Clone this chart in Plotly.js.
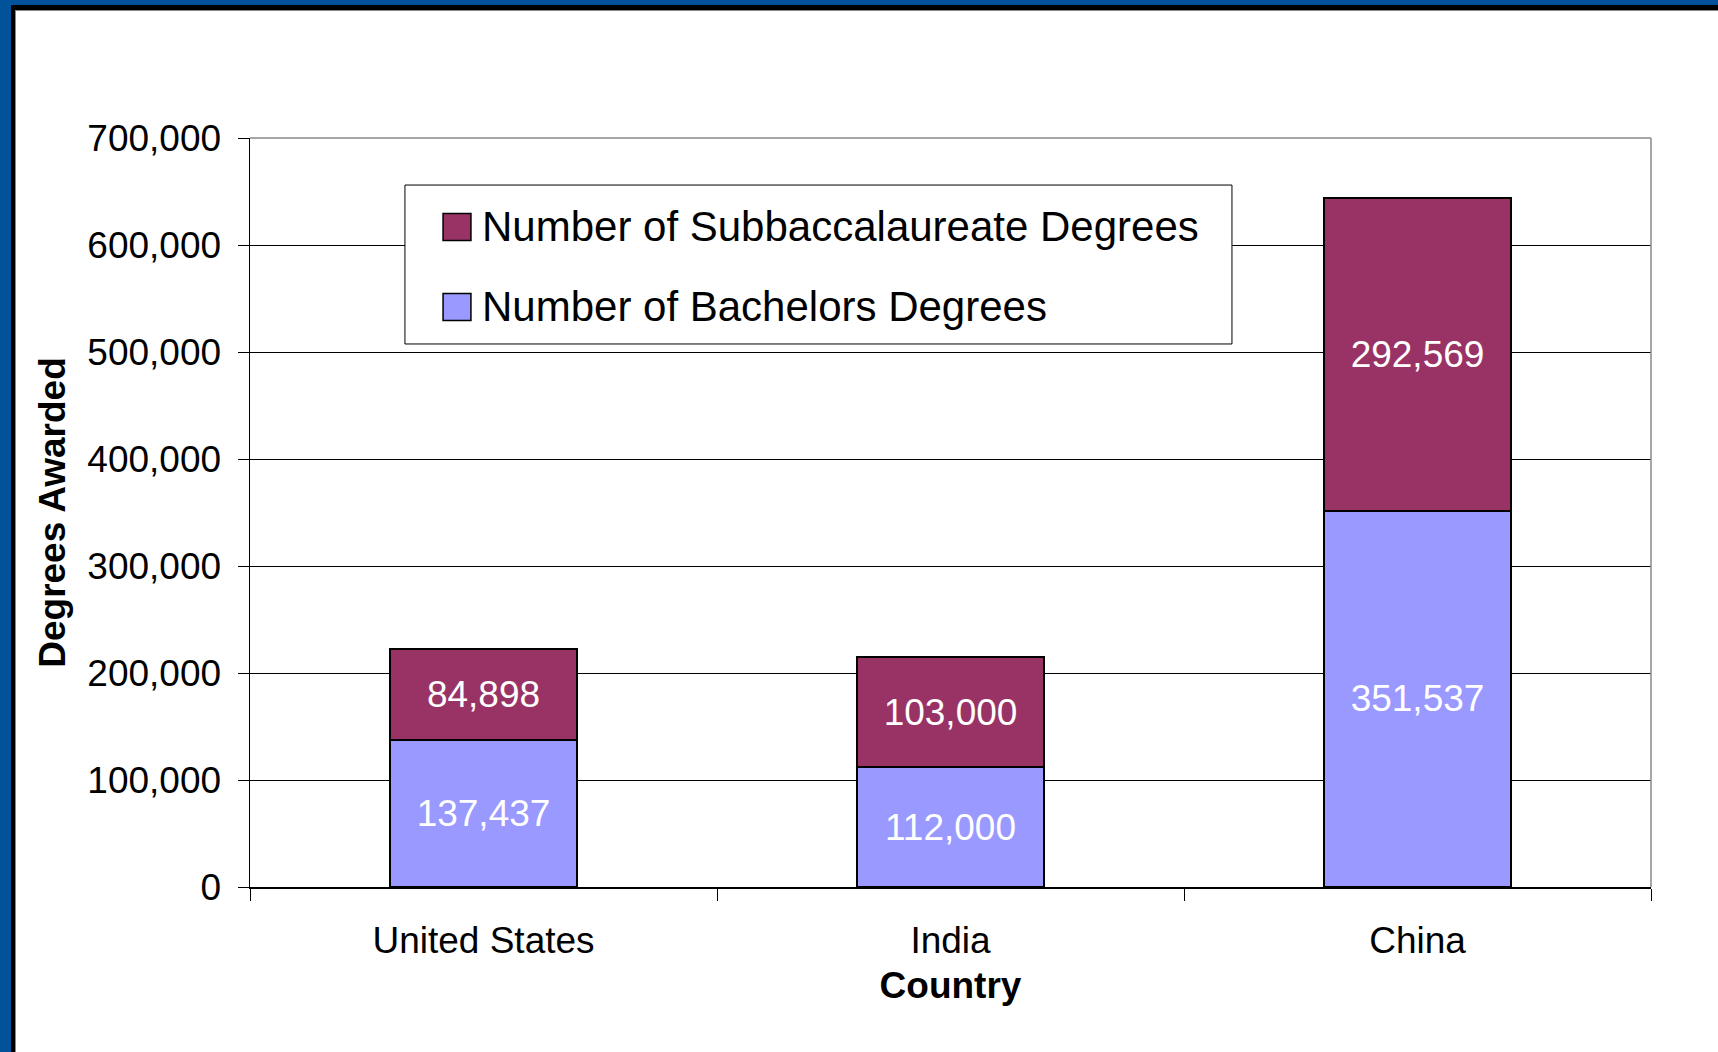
<!DOCTYPE html>
<html>
<head>
<meta charset="utf-8">
<script src="https://cdn.plot.ly/plotly-3.0.1.min.js"></script>
<style>
  html, body { margin: 0; padding: 0; background: #fff; }
  #page { position: absolute; left: 0; top: 0; width: 1718px; height: 1052px; background: #fff; overflow: hidden; }
  .strip { position: absolute; }
  #chart { position: absolute; left: 16px; top: 11px; width: 1702px; height: 1041px; }
</style>
</head>
<body>
<div id="page">
  <div class="strip" style="left:0;top:0;width:11px;height:1052px;background:#00529B;"></div>
  <div class="strip" style="left:0;top:0;width:1718px;height:5px;background:#00529B;"></div>
  <div class="strip" style="left:11px;top:5px;width:4px;height:1047px;background:#000;"></div>
  <div class="strip" style="left:11px;top:5px;width:1707px;height:5px;background:#000;"></div>
  <div class="strip" style="left:15px;top:10px;width:1px;height:1042px;background:#888;"></div>
  <div class="strip" style="left:15px;top:10px;width:1703px;height:1px;background:#888;"></div>
  <div id="chart"></div>
</div>
<script>
// ---- data ----
const countries = ["United States", "India", "China"];
const bachelors = [137437, 112000, 351537];
const subbacc = [84898, 103000, 292569];
const seriesNames = ["Number of Subbaccalaureate Degrees", "Number of Bachelors Degrees"];
const seriesColors = ["#993366", "#9999FF"];
const yTickValues = [0, 100000, 200000, 300000, 400000, 500000, 600000, 700000];
const xTitle = "Country";
const yTitle = "Degrees Awarded";

const FONT = "Liberation Sans, Arial, sans-serif";

const traces = [
  {
    type: "bar", name: seriesNames[1], x: countries, y: bachelors,
    marker: { color: seriesColors[1], line: { color: "#000", width: 1.5 } },
    texttemplate: "%{y:,}", textposition: "inside", insidetextanchor: "middle",
    textangle: 0, constraintext: "none",
    textfont: { family: FONT, size: 37, color: "#fff" },
    showlegend: false, hoverinfo: "x+y+name"
  },
  {
    type: "bar", name: seriesNames[0], x: countries, y: subbacc,
    marker: { color: seriesColors[0], line: { color: "#000", width: 1.5 } },
    texttemplate: "%{y:,}", textposition: "inside", insidetextanchor: "middle",
    textangle: 0, constraintext: "none",
    textfont: { family: FONT, size: 37, color: "#fff" },
    showlegend: false, hoverinfo: "x+y+name"
  }
];

// custom legend (box, swatches, labels) in paper coordinates
const legX0 = 0.1106, legX1 = 0.7009, legY0 = 0.725, legY1 = 0.9372;
const rowY = [0.8812, 0.7744];
const swH = 0.0361;
const shapes = [
  { type: "rect", xref: "paper", yref: "paper", x0: legX0, x1: legX1, y0: legY0, y1: legY1,
    fillcolor: "#fff", line: { color: "#000", width: 1 }, layer: "above" },
  { type: "line", xref: "paper", yref: "paper", x0: 0, x1: 1, y0: 1, y1: 1,
    line: { color: "#888", width: 1.5 }, layer: "above" },
  { type: "line", xref: "paper", yref: "paper", x0: 1, x1: 1, y0: 0, y1: 1,
    line: { color: "#888", width: 1.5 }, layer: "above" }
];
const annotations = [];
for (let i = 0; i < 2; i++) {
  shapes.push({ type: "rect", xref: "paper", yref: "paper",
    x0: 0.1378, x1: 0.1577, y0: rowY[i] - swH / 2, y1: rowY[i] + swH / 2,
    fillcolor: seriesColors[i], line: { color: "#000", width: 1.5 }, layer: "above" });
  annotations.push({ xref: "paper", yref: "paper", x: 0.1642, y: rowY[i],
    xanchor: "left", yanchor: "middle", showarrow: false, text: seriesNames[i],
    font: { family: FONT, size: 42, color: "#000" } });
}

const layout = {
  width: 1702, height: 1041,
  margin: { l: 234, r: 67, t: 127, b: 165, pad: 0 },
  paper_bgcolor: "#fff", plot_bgcolor: "#fff",
  barmode: "stack", bargap: 0.6,
  font: { family: FONT, size: 37, color: "#000" },
  showlegend: false,
  xaxis: {
    type: "category",
    showline: true, linecolor: "#000", linewidth: 1.5,
    ticks: "outside", tickson: "boundaries", ticklen: 12, tickcolor: "#000", tickwidth: 1,
    ticklabelstandoff: 20,
    tickfont: { family: FONT, size: 37, color: "#000" },
    showgrid: false, zeroline: false,
    title: { text: xTitle, font: { family: FONT, size: 37, color: "#000", weight: "bold" }, standoff: 12 }
  },
  yaxis: {
    range: [0, 700000], tickvals: yTickValues, tickformat: ",d",
    showline: true, linecolor: "#000", linewidth: 1.5,
    ticks: "outside", ticklen: 11, tickcolor: "#000", tickwidth: 1,
    ticklabelstandoff: 9,
    tickfont: { family: FONT, size: 37, color: "#000" },
    showgrid: true, gridcolor: "#000", gridwidth: 1, zeroline: false,
    title: { text: yTitle, font: { family: FONT, size: 37, color: "#000", weight: "bold" }, standoff: 10 }
  },
  shapes: shapes,
  annotations: annotations
};

Plotly.newPlot("chart", traces, layout, { displayModeBar: false, staticPlot: true });
</script>
</body>
</html>
